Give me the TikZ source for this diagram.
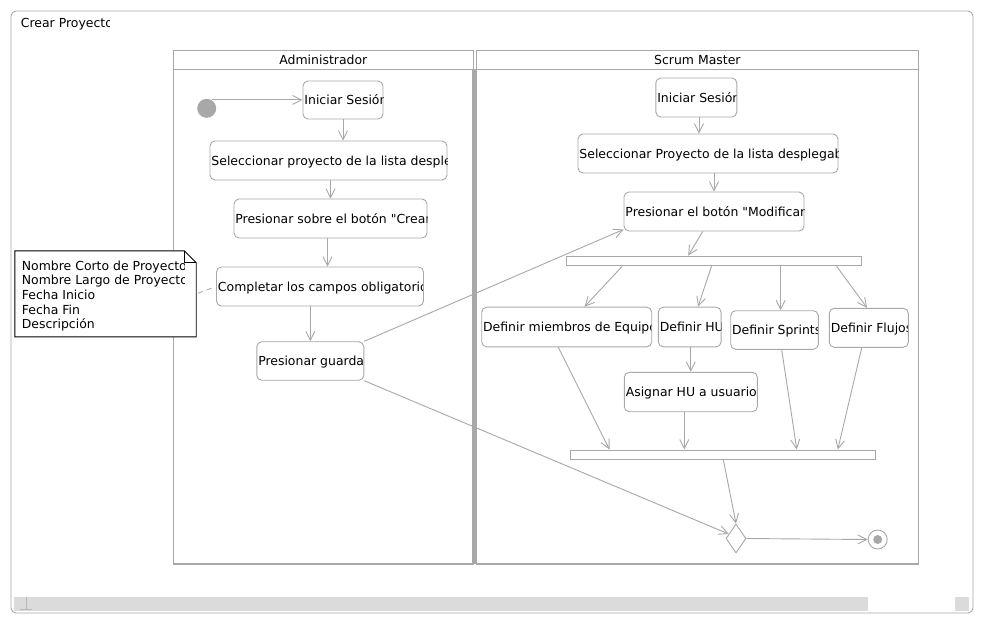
\documentclass[tikz,border=0pt]{standalone}
\usepackage{fontspec}
\setmainfont{DejaVu Sans}[Ligatures=TeXOff]
\usetikzlibrary{arrows.meta,calc,shapes.geometric}
\definecolor{lg}{HTML}{A8A8A8}
\definecolor{sb}{HTML}{DBDBDB}
\newcommand\actbox[6]{%
  \node[act, minimum width=#4pt, minimum height=#5pt,
    path picture={\node[anchor=west, inner sep=0pt, text height=9pt, text depth=0pt]
      at ([xshift=1pt]path picture bounding box.west) {#6};}] (#1) at (#2,#3) {};}
\begin{document}
\begin{tikzpicture}[x=1pt,y=-1pt, font=\fontsize{12.45}{15}\selectfont,
  act/.style={draw=lg, fill=white, rounded corners=5pt, line width=0.9pt, inner sep=0pt},
  barbox/.style={draw=lg, fill=white, line width=0.9pt, inner sep=0pt},
  conn/.style={draw=lg, line width=0.9pt, -{Straight Barb[length=9pt,width=9pt]}},
  lanehead/.style={draw=lg, line width=0.9pt, inner sep=0pt, anchor=north west, minimum height=19.3pt}]
\useasboundingbox (0,0) rectangle (984,625);
\fill[white] (0,0) rectangle (984,625);
% outer frame
\draw[lg, line width=0.9pt, rounded corners=5pt] (11,11) rectangle (973,613);
\begin{scope}
  \clip (15,12) rectangle (109.3,35);
  \node[anchor=base west, inner sep=0pt] (title) at (20.7,27.7) {Crear Proyecto};
\end{scope}
% scrollbar
\fill[sb] (14,597) rectangle (867.7,611);
\fill[sb] (955.3,597) rectangle (968.7,611);
\draw[lg!80, line width=0.8pt] (26,597) -- (26,609) (20,609) -- (32,609);
% lanes
\node[lanehead, minimum width=300.8pt] (hadm) at (172.5,50) {Administrador};
\node[lanehead, minimum width=442.8pt] (hsm) at (475.5,50) {Scrum Master};
\draw[lg, line width=1.6pt] (173.3,69.3) rectangle (472.8,564);
\draw[lg, line width=1.6pt] (476.3,69.3) rectangle (918.5,564);
\draw[lg, line width=4pt] (475,69.3) -- (475,564);
% admin lane
\node[circle, fill=lg, minimum size=19pt, inner sep=0pt] (start) at (206.7,108.3) {};
\actbox{a1}{343}{100}{80}{38}{Iniciar Sesión}
\actbox{a2}{328.5}{160.5}{237}{39}{Seleccionar proyecto de la lista desplegable}
\actbox{a3}{330.5}{218.5}{193}{39}{Presionar sobre el botón "Crear"}
\actbox{a4}{320}{286.5}{207}{39}{Completar los campos obligatorios}
\actbox{a5}{310.3}{361}{107}{38.5}{Presionar guardar}
% note
\node[minimum width=181pt, minimum height=85.7pt, inner sep=0pt] (note) at (105.5,293.85) {};
\draw[black, line width=0.9pt, fill=white] (note.north west) -- ($(note.north east)+(-12,0)$)
  -- ($(note.north east)+(0,12)$) -- (note.south east) -- (note.south west) -- cycle;
\draw[black, line width=0.9pt] ($(note.north east)+(-12,0)$) -- ($(note.north east)+(-12,12)$)
  -- ($(note.north east)+(0,12)$);
\begin{scope}
  \clip (16,252) rectangle (184.3,336);
  \node[anchor=base west, inner sep=0pt] (n1) at (21.7,270.2) {Nombre Corto de Proyecto};
  \node[anchor=base west, inner sep=0pt] (n2) at (21.7,284.8) {Nombre Largo de Proyecto};
  \node[anchor=base west, inner sep=0pt] (n3) at (21.7,299.4) {Fecha Inicio};
  \node[anchor=base west, inner sep=0pt] (n4) at (21.7,314) {Fecha Fin};
  \node[anchor=base west, inner sep=0pt] (n5) at (21.7,328.6) {Descripción};
\end{scope}
\draw[lg, line width=0.9pt, dash pattern=on 5pt off 4pt, shorten <=2pt, shorten >=3pt] (note.east) -- (a4.west);
% scrum master lane
\actbox{s1}{696.3}{97.5}{81}{39}{Iniciar Sesión}
\actbox{s2}{708}{153.5}{260}{39}{Seleccionar Proyecto de la lista desplegable}
\actbox{s3}{714}{211.5}{180}{39}{Presionar el botón "Modificar"}
\node[barbox, minimum width=295pt, minimum height=9.7pt] (fork) at (714.2,260.9) {};
\actbox{d1}{566.7}{327}{170}{39.7}{Definir miembros de Equipo}
\actbox{d2}{689.7}{327}{62.7}{39.7}{Definir HU}
\actbox{d3}{774.5}{330}{87.6}{38.6}{Definir Sprints}
\actbox{d4}{868.8}{327.8}{79}{39}{Definir Flujos}
\actbox{d5}{690.8}{392}{133}{39.4}{Asignar HU a usuarios}
\node[barbox, minimum width=305.7pt, minimum height=9.3pt] (join) at (722.8,454.6) {};
\node[diamond, draw=lg, fill=white, minimum width=20pt, minimum height=29pt, inner sep=0pt, line width=0.9pt] (dia) at (736,538.5) {};
\node[circle, draw=lg, fill=white, minimum size=19pt, inner sep=0pt, line width=0.9pt] (end) at (877.7,539.5) {};
\node[circle, fill=lg, minimum size=9pt, inner sep=0pt] (enddot) at (end.center) {};
% helper coordinates
\coordinate (a3o) at ($(a3.south)+(-3,0)$);
\coordinate (s1o) at ($(s1.south)+(2.7,0)$);
\coordinate (d3i) at ($(d3.north)+(6.2,0)$);
\coordinate (d5o) at ($(d5.south)+(-6.5,0)$);
% connectors admin
\draw[conn] (start.60) -- (start.60 -| a1.west);
\draw[conn] (a1.south) -- (a1.south |- a2.north);
\draw[conn] (a2.south -| a3.north) -- (a3.north);
\draw[conn] (a3o) -- (a3o |- a4.north);
\draw[conn] (a4.south -| a5.north) -- (a5.north);
\draw[conn] (a5.north east) -- ($(s3.south west)+(0,-2)$);
\draw[conn] (a5.south east) -- ($(dia.west)!0.3!(dia.north)$);
% connectors scrum master
\draw[conn] (s1o) -- (s1o |- s2.north);
\draw[conn] (s3.north |- s2.south) -- (s3.north);
\draw[conn] ($(s3.south)+(-11.3,0)$) -- ($(fork.north)+(-26,0)$);
\draw[conn] ($(fork.south west)+(56,0)$) -- ($(d1.north west)+(103.3,0)$);
\draw[conn] ($(fork.south west)+(145.3,0)$) -- ($(d2.north)+(8.3,0)$);
\draw[conn] (d3i |- fork.south) -- (d3i);
\draw[conn] ($(fork.south west)+(270.3,0)$) -- ($(d4.north)+(-1.8,0)$);
\draw[conn] (d5.north |- d2.south) -- (d5.north);
\draw[conn] ($(d1.south)+(-8.4,0)$) -- ($(join.north west)+(40,0)$);
\draw[conn] (d5o) -- (d5o |- join.north);
\draw[conn] ($(d3.south)+(7.2,0)$) -- ($(join.north west)+(227.3,0)$);
\draw[conn] ($(d4.south)+(-7.1,0)$) -- ($(join.north west)+(268.3,0)$);
\draw[conn] ($(join.south)+(0.5,0)$) -- (dia.north);
\draw[conn] (dia.east) -- (end.west);
\end{tikzpicture}
\end{document}
